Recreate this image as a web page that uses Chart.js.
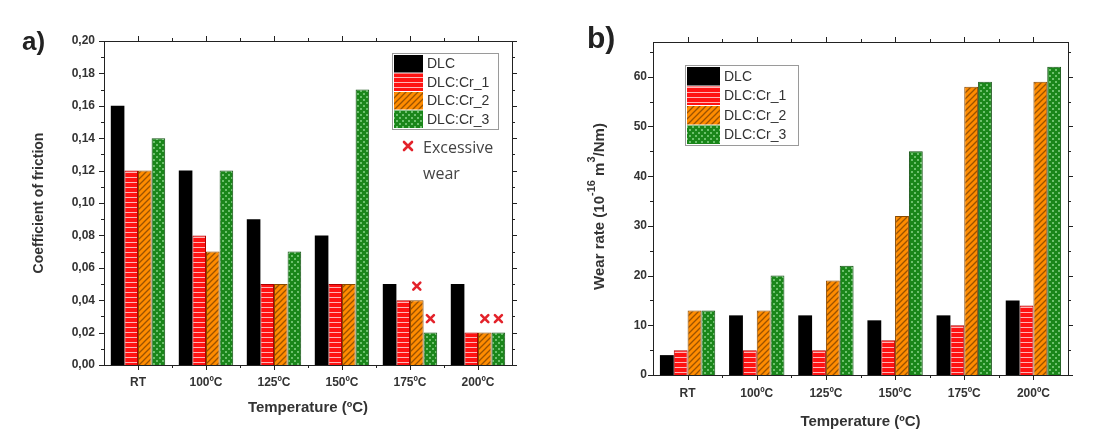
<!DOCTYPE html>
<html>
<head>
<meta charset="utf-8">
<script src="https://cdn.jsdelivr.net/npm/chart.js@4.4.0/dist/chart.umd.min.js"></script>
<style>
  html, body { margin: 0; padding: 0; background: #fff; }
  #wrap { position: relative; width: 1097px; height: 439px; overflow: hidden; }
  #left { position: absolute; left: 0; top: 0; }
  #right { position: absolute; left: 560px; top: 0; }
</style>
</head>
<body>
<div id="wrap">
  <canvas id="left" width="560" height="439"></canvas>
  <canvas id="right" width="537" height="439"></canvas>
</div>
<script>
// data
var temperatures = ['RT', '100ºC', '125ºC', '150ºC', '175ºC', '200ºC'];
var seriesNames = ['DLC', 'DLC:Cr_1', 'DLC:Cr_2', 'DLC:Cr_3'];

var frictionDLC = [0.16, 0.12, 0.09, 0.08, 0.05, 0.05];
var frictionCr1 = [0.12, 0.08, 0.05, 0.05, 0.04, 0.02];
var frictionCr2 = [0.12, 0.07, 0.05, 0.05, 0.04, 0.02];
var frictionCr3 = [0.14, 0.12, 0.07, 0.17, 0.02, 0.02];

var wearDLC = [4, 12, 12, 11, 12, 15];
var wearCr1 = [5, 5, 5, 7, 10, 14];
var wearCr2 = [13, 13, 19, 32, 58, 59];
var wearCr3 = [13, 20, 22, 45, 59, 62];

// [temperature index, series index] flagged with excessive wear
var excessiveWear = [[4, 2], [4, 3], [5, 2], [5, 3]];

var TICK_FONT = { family: 'Liberation Sans, Arial, sans-serif', size: 12, weight: 'bold' };
var TITLE_FONT = { family: 'Liberation Sans, Arial, sans-serif', size: 15, weight: 'bold' };

function makePattern(kind) {
  var c = document.createElement('canvas');
  var g = c.getContext('2d');
  if (kind === 'red') {
    c.width = 5; c.height = 5;
    g.fillStyle = '#ff1212'; g.fillRect(0, 0, 5, 5);
    g.fillStyle = 'rgba(255,200,200,0.9)'; g.fillRect(0, 2, 5, 1);
  } else if (kind === 'orange') {
    c.width = 6; c.height = 6;
    g.fillStyle = '#ff8c00'; g.fillRect(0, 0, 6, 6);
    g.strokeStyle = '#9a5200'; g.lineWidth = 1.3;
    g.beginPath();
    g.moveTo(0, 6); g.lineTo(6, 0);
    g.moveTo(-1, 1); g.lineTo(1, -1);
    g.moveTo(5, 7); g.lineTo(7, 5);
    g.stroke();
  } else {
    c.width = 6; c.height = 6;
    g.fillStyle = '#1a861a'; g.fillRect(0, 0, 6, 6);
    g.fillStyle = '#6cc06c';
    g.fillRect(0, 0, 2, 2); g.fillRect(3, 3, 2, 2);
  }
  return g.createPattern(c, 'repeat');
}

var fills = ['#000000', makePattern('red'), makePattern('orange'), makePattern('green')];
var borders = ['#000000', '#b00000', '#8a4a00', '#145214'];

function buildDatasets(arrays) {
  return arrays.map(function (arr, i) {
    return {
      label: seriesNames[i],
      data: arr,
      backgroundColor: fills[i],
      borderColor: borders[i],
      borderWidth: i === 0 ? 0 : 1,
      barPercentage: 1.0,
      categoryPercentage: 0.8
    };
  });
}

// frame with major/minor ticks on all four sides
function framePlugin(major, minor) {
  return {
    id: 'frame',
    afterDraw: function (chart) {
      var ctx = chart.ctx, a = chart.chartArea, x = chart.scales.x, y = chart.scales.y;
      ctx.save();
      ctx.strokeStyle = '#222';
      ctx.lineWidth = 1;
      ctx.strokeRect(Math.round(a.left) + 0.5, Math.round(a.top) + 0.5,
        Math.round(a.right - a.left), Math.round(a.bottom - a.top));
      ctx.beginPath();
      var n = Math.round(y.max / minor);
      for (var k = 0; k <= n; k++) {
        var v = k * minor;
        if (v > y.max + 1e-9) break;
        var py = Math.round(y.getPixelForValue(v)) + 0.5;
        var len = (k % Math.round(major / minor) === 0) ? 5 : 3;
        ctx.moveTo(a.left, py); ctx.lineTo(a.left - len, py);
        ctx.moveTo(a.right, py); ctx.lineTo(a.right + len, py);
      }
      var cats = chart.data.labels.length;
      for (var i = 0; i < cats; i++) {
        var px = Math.round(x.getPixelForValue(i)) + 0.5;
        ctx.moveTo(px, a.bottom); ctx.lineTo(px, a.bottom + 5);
        ctx.moveTo(px, a.top); ctx.lineTo(px, a.top - 5);
        if (i > 0) {
          var bx = Math.round((x.getPixelForValue(i) + x.getPixelForValue(i - 1)) / 2) + 0.5;
          ctx.moveTo(bx, a.bottom); ctx.lineTo(bx, a.bottom + 3);
          ctx.moveTo(bx, a.top); ctx.lineTo(bx, a.top - 3);
        }
      }
      ctx.stroke();
      ctx.restore();
    }
  };
}

function legendPlugin(box) {
  return {
    id: 'boxLegend',
    afterDraw: function (chart) {
      var ctx = chart.ctx;
      ctx.save();
      ctx.fillStyle = '#fff';
      ctx.fillRect(box.x, box.y, box.w, box.h);
      ctx.strokeStyle = '#9a9a9a';
      ctx.lineWidth = 1;
      ctx.strokeRect(box.x + 0.5, box.y + 0.5, box.w, box.h);
      ctx.font = box.font;
      ctx.textBaseline = 'middle';
      chart.data.datasets.forEach(function (ds, i) {
        var ry = box.y + 2 + i * box.row;
        ctx.fillStyle = ds.backgroundColor;
        ctx.fillRect(box.x + 2, ry, box.sw, box.row - 1);
        ctx.fillStyle = '#333';
        ctx.fillText(ds.label, box.x + box.sw + 6, ry + box.row / 2);
      });
      ctx.restore();
    }
  };
}

function panelLabel(text, px, py, size) {
  return {
    id: 'panelLabel',
    afterDraw: function (chart) {
      var ctx = chart.ctx;
      ctx.save();
      ctx.fillStyle = '#222';
      ctx.font = 'bold ' + size + 'px Liberation Sans, Arial, sans-serif';
      ctx.textBaseline = 'middle';
      ctx.fillText(text, px, py);
      ctx.restore();
    }
  };
}

function drawCross(ctx, cx, cy, r) {
  ctx.save();
  ctx.strokeStyle = '#e3222a';
  ctx.lineWidth = 2.6;
  ctx.lineCap = 'round';
  ctx.beginPath();
  ctx.moveTo(cx - r, cy - r); ctx.lineTo(cx + r, cy + r);
  ctx.moveTo(cx + r, cy - r); ctx.lineTo(cx - r, cy + r);
  ctx.stroke();
  ctx.restore();
}

var wearMarks = {
  id: 'wearMarks',
  afterDatasetsDraw: function (chart) {
    var ctx = chart.ctx;
    excessiveWear.forEach(function (m) {
      var bar = chart.getDatasetMeta(m[1]).data[m[0]];
      drawCross(ctx, bar.x, bar.y - 14, 3.5);
    });
    // note next to legend
    drawCross(ctx, 408, 146, 4);
    ctx.save();
    ctx.fillStyle = '#444';
    ctx.font = '16px Open Sans, Liberation Sans, sans-serif';
    ctx.textBaseline = 'middle';
    ctx.fillText('Excessive', 423, 148);
    ctx.fillText('wear', 423, 174);
    ctx.restore();
  }
};

var wearTitle = {
  id: 'wearTitle',
  afterDraw: function (chart) {
    var ctx = chart.ctx, a = chart.chartArea;
    var parts = [['Wear rate (10', false], ['-16', true], [' m', false], ['3', true], ['/Nm)', false]];
    var big = 'bold 15px Liberation Sans, Arial, sans-serif';
    var small = 'bold 11px Liberation Sans, Arial, sans-serif';
    ctx.save();
    var total = 0;
    parts.forEach(function (p) { ctx.font = p[1] ? small : big; total += ctx.measureText(p[0]).width; });
    ctx.translate(40, (a.top + a.bottom) / 2 - 2);
    ctx.rotate(-Math.PI / 2);
    ctx.fillStyle = '#333';
    ctx.textBaseline = 'middle';
    var px = -total / 2;
    parts.forEach(function (p) {
      ctx.font = p[1] ? small : big;
      ctx.fillText(p[0], px, p[1] ? -8 : 0);
      px += ctx.measureText(p[0]).width;
    });
    ctx.restore();
  }
};

function baseOptions(o) {
  return {
    responsive: false,
    animation: false,
    layout: { padding: o.padding },
    plugins: { legend: { display: false }, tooltip: { enabled: false } },
    scales: {
      x: {
        grid: { display: false, drawTicks: false },
        border: { display: false },
        ticks: { font: TICK_FONT, color: '#333', padding: o.xPad, maxRotation: 0 },
        title: { display: true, text: 'Temperature (ºC)', font: TITLE_FONT, color: '#333', padding: { top: 0, bottom: o.xTitlePad } },
        afterFit: function (s) { s.height = o.xHeight; }
      },
      y: {
        min: 0, max: o.yMax,
        grid: { display: false, drawTicks: false },
        border: { display: false },
        ticks: { stepSize: o.step, includeBounds: false, font: TICK_FONT, color: '#333', padding: o.yPad, callback: o.fmt },
        title: o.yTitle,
        afterFit: function (s) { s.width = o.yWidth; }
      }
    }
  };
}

new Chart(document.getElementById('left'), {
  type: 'bar',
  data: { labels: temperatures, datasets: buildDatasets([frictionDLC, frictionCr1, frictionCr2, frictionCr3]) },
  options: baseOptions({
    padding: { left: 0, top: 41, right: 48, bottom: 0 },
    xHeight: 74, xPad: 10, xTitlePad: 22,
    yWidth: 104, yPad: 9, yMax: 0.2, step: 0.02,
    fmt: function (v) { return v.toFixed(2).replace('.', ','); },
    yTitle: { display: true, text: 'Coefficient of friction', font: { family: 'Liberation Sans, Arial, sans-serif', size: 14, weight: 'bold' }, color: '#333', padding: { top: 31, bottom: 0 } }
  }),
  plugins: [framePlugin(0.02, 0.01), wearMarks,
    legendPlugin({ x: 392, y: 53, w: 106, h: 76, row: 18.5, sw: 29, font: '14px Liberation Sans, Arial, sans-serif' }),
    panelLabel('a)', 22, 43, 26)]
});

new Chart(document.getElementById('right'), {
  type: 'bar',
  data: { labels: temperatures, datasets: buildDatasets([wearDLC, wearCr1, wearCr2, wearCr3]) },
  options: baseOptions({
    padding: { left: 0, top: 42, right: 29, bottom: 0 },
    xHeight: 64, xPad: 11, xTitlePad: 8,
    yWidth: 93, yPad: 6, yMax: 67, step: 10,
    fmt: function (v) { return String(v); },
    yTitle: { display: false }
  }),
  plugins: [framePlugin(10, 5), wearTitle,
    legendPlugin({ x: 125, y: 65, w: 113, h: 80, row: 19.5, sw: 33, font: '14px Liberation Sans, Arial, sans-serif' }),
    panelLabel('b)', 27, 40, 30)]
});
</script>
</body>
</html>
